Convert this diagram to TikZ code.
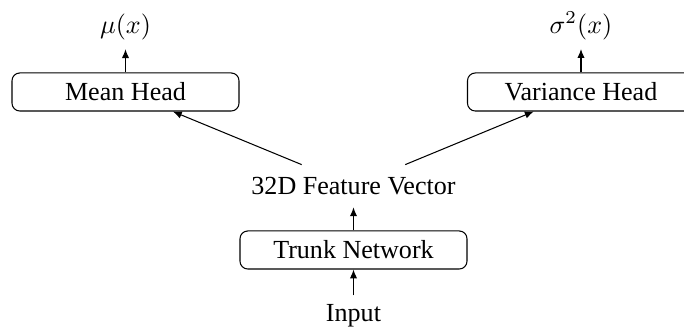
\documentclass[tikz,border=0pt]{standalone}
\usepackage{fontspec}
\setmainfont{Liberation Serif}
\usetikzlibrary{arrows.meta}
\begin{document}
\begin{tikzpicture}[x=0.3837pt,y=-0.3837pt,
  blk/.style={draw, rounded corners=3pt, minimum width=87.1pt, minimum height=14.6pt, inner sep=0pt, line width=0.4pt, font=\fontsize{10pt}{12pt}\selectfont},
  lbl/.style={inner sep=3.33pt, font=\fontsize{10pt}{12pt}\selectfont},
  arr/.style={-{Latex[length=3.4pt,width=2.8pt]}, line width=0.4pt}]
\clip (0,0) rectangle (684,329);
\node[blk] (mean) at (125.5,92) {Mean Head};
\node[blk] (var) at (581,92) {Variance Head};
\node[blk] (trunk) at (353.5,250) {Trunk Network};
\node[lbl, minimum height=16pt] (feat) at (353.5,186) {32D Feature Vector};
\node[lbl] (inp) at (353.5,316) {Input};
\node[lbl] (mu) at (125.5,27) {$\mu(x)$};
\node[lbl] (sig) at (581,26) {$\sigma^2(x)$};
\draw[arr] (inp) -- (trunk);
\draw[arr] (trunk) -- (feat);
\draw[arr] (feat) -- (mean);
\draw[arr] (feat) -- (var);
\draw[arr] (mean) -- (mu);
\draw[arr] (var) -- (sig);
\end{tikzpicture}
\end{document}
